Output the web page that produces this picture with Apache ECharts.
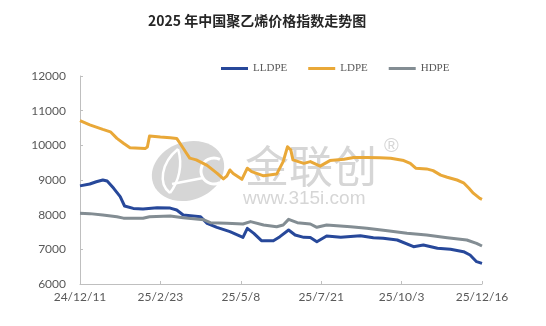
<!DOCTYPE html>
<html>
<head>
<meta charset="utf-8">
<script src="https://cdn.jsdelivr.net/npm/echarts@6/dist/echarts.min.js"></script>
<style>
  html, body { margin: 0; padding: 0; background: #fff; }
  #chart { width: 546px; height: 326px; }
</style>
</head>
<body>
<div id="chart"></div>
<script>
// Day offsets are counted from 2024-12-11; each pair is [day, index value].
const xTickLabels = ['24/12/11', '25/2/23', '25/5/8', '25/7/21', '25/10/3', '25/12/16'];
const tickStep = 74;
const totalDays = 370;

const lldpe = [
  [0, 8830], [9, 8885], [15, 8950], [21, 9000], [25, 8970], [31, 8760], [37, 8520],
  [41, 8250], [49, 8180], [58, 8165], [71, 8200], [83, 8190], [89, 8135], [95, 7990],
  [111, 7940], [117, 7750], [126, 7635], [138, 7510], [150, 7346], [154, 7606],
  [160, 7462], [167, 7250], [178, 7250], [184, 7365], [192, 7557], [198, 7413],
  [206, 7346], [212, 7340], [218, 7220], [227, 7384], [240, 7346], [258, 7394],
  [270, 7336], [279, 7320], [292, 7269], [307, 7077], [316, 7125], [329, 7029],
  [341, 7000], [353, 6933], [359, 6836], [365, 6644], [370, 6596]
];

const ldpe = [
  [0, 10710], [9, 10590], [21, 10460], [28, 10390], [34, 10200], [40, 10060],
  [46, 9930], [60, 9910], [62, 9950], [64, 10270], [74, 10240], [83, 10220],
  [89, 10200], [92, 10060], [98, 9770], [101, 9630], [107, 9580], [117, 9420],
  [126, 9200], [132, 9030], [135, 9110], [138, 9290], [141, 9190], [149, 9020],
  [154, 9340], [158, 9240], [169, 9120], [181, 9170], [187, 9530], [191, 9960],
  [194, 9870], [196, 9580], [206, 9480], [212, 9530], [221, 9400], [230, 9560],
  [243, 9600], [252, 9650], [264, 9650], [276, 9640], [286, 9625], [298, 9560],
  [304, 9480], [309, 9340], [319, 9320], [325, 9270], [332, 9140], [338, 9080],
  [347, 9000], [353, 8920], [358, 8760], [362, 8620], [368, 8470], [370, 8440]
];

const hdpe = [
  [0, 8040], [9, 8030], [21, 7990], [34, 7940], [40, 7900], [58, 7895], [64, 7940],
  [83, 7960], [95, 7910], [114, 7850], [120, 7770], [135, 7750], [150, 7730],
  [157, 7800], [169, 7700], [181, 7650], [187, 7700], [192, 7865], [200, 7770],
  [212, 7730], [218, 7635], [227, 7700], [249, 7654], [264, 7606], [283, 7538],
  [301, 7462], [319, 7413], [338, 7336], [356, 7269], [365, 7173], [370, 7096]
];

const seriesNames = ['LLDPE', 'LDPE', 'HDPE'];
const seriesColors = ['#27489A', '#E9A838', '#838D93'];
const seriesData = [lldpe, ldpe, hdpe];

const chart = echarts.init(document.getElementById('chart'), null, { renderer: 'canvas' });

const wmColor = '#D6D6D6';

chart.setOption({
  animation: false,
  backgroundColor: '#ffffff',
  title: {
    text: '2025 年中国聚乙烯价格指数走势图',
    left: 143,
    top: 9,
    textStyle: {
      fontFamily: '"Noto Sans CJK SC", sans-serif',
      fontSize: 14,
      fontWeight: 'bold',
      color: '#262626'
    }
  },
  legend: {
    left: 216,
    top: 58,
    itemGap: 21,
    itemWidth: 27,
    itemHeight: 3,
    icon: 'rect',
    data: seriesNames,
    textStyle: {
      fontFamily: '"Liberation Serif", serif',
      fontSize: 11,
      color: '#595959'
    }
  },
  grid: { left: 80, right: 64, top: 76, bottom: 42, containLabel: false },
  xAxis: {
    type: 'value',
    min: 0,
    max: totalDays,
    interval: tickStep,
    axisLine: { lineStyle: { color: '#BFBFBF', width: 1 } },
    axisTick: { show: true, inside: true, length: 3, lineStyle: { color: '#BFBFBF' } },
    splitLine: { show: false },
    axisLabel: {
      margin: 7,
      fontFamily: 'Lato, sans-serif',
      fontSize: 12,
      color: '#595959',
      showMaxLabel: true,
      formatter: v => xTickLabels[Math.round(v / tickStep)] || ''
    }
  },
  yAxis: {
    type: 'value',
    min: 6000,
    max: 12000,
    interval: 1000,
    axisLine: { show: true, lineStyle: { color: '#BFBFBF', width: 1 } },
    axisTick: { show: true, inside: true, length: 3, lineStyle: { color: '#BFBFBF' } },
    splitLine: { show: false },
    axisLabel: {
      margin: 14,
      fontFamily: 'Lato, sans-serif',
      fontSize: 12,
      color: '#595959',
      formatter: v => String(v)
    }
  },
  graphic: [
    {
      type: 'group',
      z: 0,
      silent: true,
      children: [
        {
          type: 'ellipse',
          x: 188, y: 171,
          rotation: 0.35,
          shape: { cx: 0, cy: 0, rx: 37, ry: 29 },
          style: { fill: wmColor }
        },
        {
          type: 'bezierCurve',
          shape: { x1: 178, y1: 149, cpx1: 161, cpy1: 163, cpx2: 158, cpy2: 184, x2: 170, y2: 193 },
          style: { fill: 'none', stroke: '#ffffff', lineWidth: 2.5 }
        },
        {
          type: 'bezierCurve',
          shape: { x1: 170, y1: 193, cpx1: 179, cpy1: 181, cpx2: 183, cpy2: 165, x2: 178, y2: 149 },
          style: { fill: 'none', stroke: '#ffffff', lineWidth: 2.5 }
        },
        {
          type: 'line',
          shape: { x1: 172, y1: 184, x2: 203, y2: 178 },
          style: { stroke: '#ffffff', lineWidth: 2.5 }
        },
        {
          type: 'arc',
          shape: { cx: 214, cy: 171, r: 13, startAngle: Math.PI * 0.35, endAngle: Math.PI * 1.65, clockwise: true },
          style: { fill: 'none', stroke: '#ffffff', lineWidth: 3 }
        },
        {
          type: 'text',
          x: 245, y: 144,
          style: {
            text: '金联创',
            fill: wmColor,
            font: '44px "Noto Sans CJK SC", sans-serif'
          }
        },
        {
          type: 'text',
          x: 384, y: 136,
          style: {
            text: '®',
            fill: wmColor,
            font: '20px "Liberation Sans", sans-serif'
          }
        },
        {
          type: 'text',
          x: 243, y: 189,
          style: {
            text: 'www.315i.com',
            fill: wmColor,
            font: '19px "Liberation Sans", sans-serif'
          }
        }
      ]
    }
  ],
  series: seriesNames.map((name, i) => ({
    name,
    type: 'line',
    data: seriesData[i],
    showSymbol: false,
    symbol: 'none',
    z: 3 + i,
    itemStyle: { color: seriesColors[i] },
    lineStyle: { color: seriesColors[i], width: 3, join: 'round' }
  }))
});
</script>
</body>
</html>
